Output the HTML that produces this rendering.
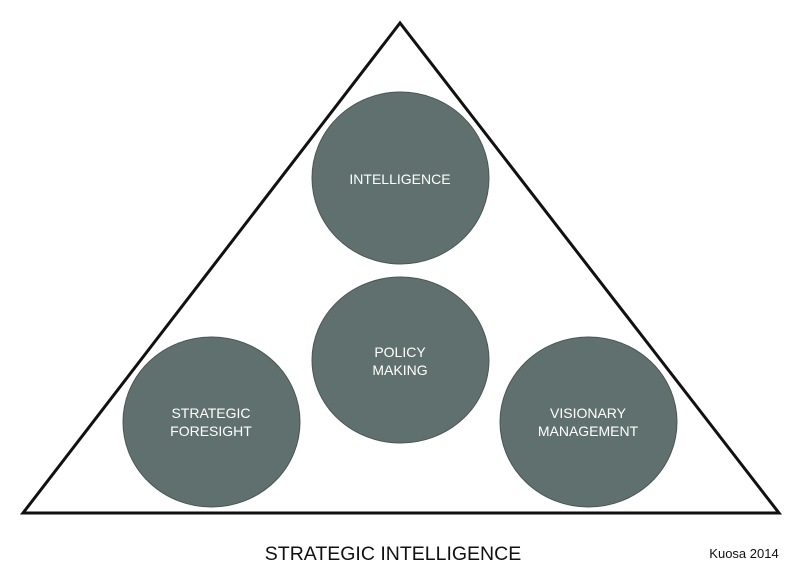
<!DOCTYPE html>
<html><head><style>body{margin:0;background:#fff}svg{display:block}</style></head><body>
<svg width="800" height="577" viewBox="0 0 800 577" xmlns="http://www.w3.org/2000/svg" font-family="Liberation Sans, sans-serif">
<polygon points="400,23 23,513 779,513" fill="#fff" stroke="#111" stroke-width="3" stroke-linejoin="miter"/>
<g fill="#5f706e" stroke="#4a5654" stroke-width="1">
<ellipse cx="400.5" cy="178" rx="88.5" ry="86"/>
<ellipse cx="400.5" cy="360" rx="88.5" ry="83"/>
<ellipse cx="211.5" cy="422" rx="88.5" ry="85"/>
<ellipse cx="588.5" cy="422" rx="88.5" ry="85"/>
</g>
<g fill="#fff" font-size="14" text-anchor="middle">
<text x="400" y="184">INTELLIGENCE</text>
<text x="400" y="357">POLICY</text><text x="400" y="375">MAKING</text>
<text x="211" y="418">STRATEGIC</text><text x="211" y="436">FORESIGHT</text>
<text x="588" y="418">VISIONARY</text><text x="588" y="436">MANAGEMENT</text>
</g>
<text x="393" y="560" font-size="19.5" text-anchor="middle" fill="#111">STRATEGIC INTELLIGENCE</text>
<text x="744" y="558" font-size="13" text-anchor="middle" fill="#111">Kuosa 2014</text>
</svg>
</body></html>
